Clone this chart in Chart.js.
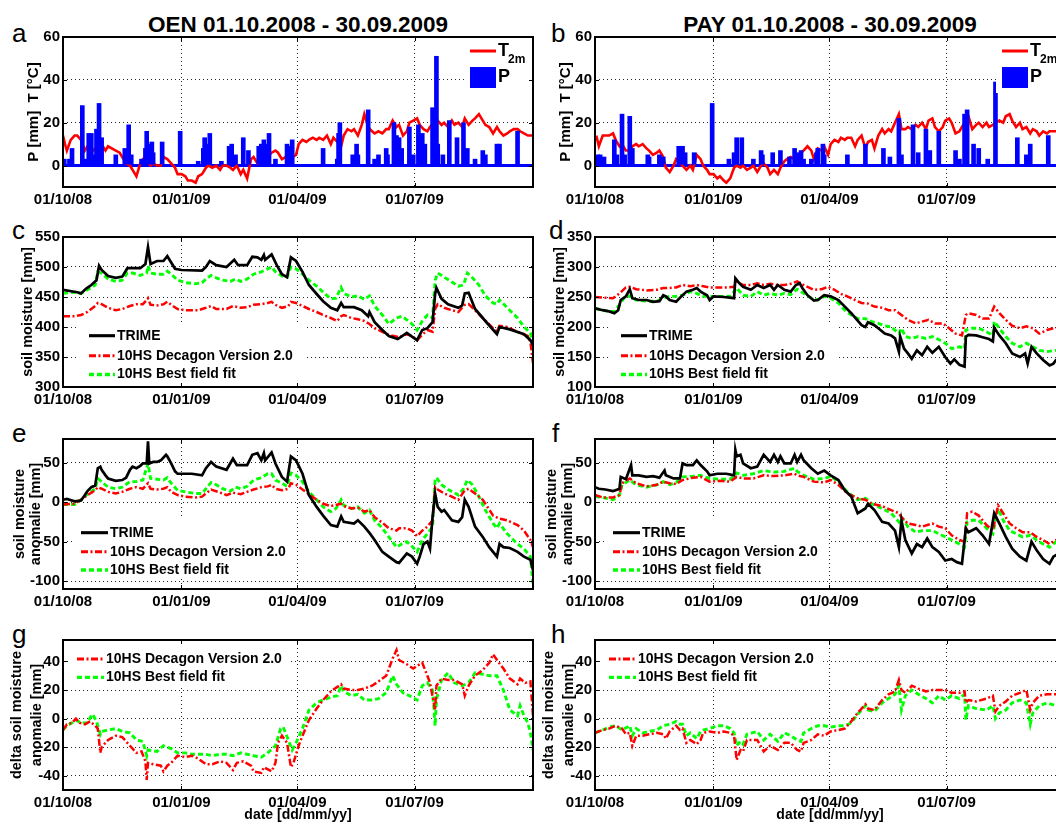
<!DOCTYPE html>
<html>
<head>
<meta charset="utf-8">
<title>Soil moisture OEN / PAY 2008-2009</title>
<script src="https://cdn.jsdelivr.net/npm/chart.js@4.4.1/dist/chart.umd.min.js"></script>
<style>
  html, body { margin: 0; padding: 0; background: #fff; }
  body { position: relative; width: 1056px; height: 825px; overflow: hidden;
         font-family: "Liberation Sans", Arial, Helvetica, sans-serif; }
  canvas { position: absolute; }
  .col-title { position: absolute; font-weight: bold; font-size: 22.5px; line-height: 23px;
               white-space: nowrap; transform: translateX(-50%); }
  .panel-tag { position: absolute; font-size: 26px; line-height: 26px; }
</style>
</head>
<body>
<div class="col-title" style="left:298px; top:13px">OEN 01.10.2008 - 30.09.2009</div>
<div class="col-title" style="left:830px; top:13px">PAY 01.10.2008 - 30.09.2009</div>
<div class="panel-tag" style="left:12px; top:20px">a</div>
<div class="panel-tag" style="left:551px; top:20px">b</div>
<div class="panel-tag" style="left:12px; top:217px">c</div>
<div class="panel-tag" style="left:549px; top:217px">d</div>
<div class="panel-tag" style="left:12px; top:420px">e</div>
<div class="panel-tag" style="left:552px; top:420px">f</div>
<div class="panel-tag" style="left:12px; top:621px">g</div>
<div class="panel-tag" style="left:551px; top:621px">h</div>

<script>
// ---- x axis: days since 01/10/2008 ----
const DAY_TICKS = [0, 92, 182, 273];
const DATE_LABELS = ['01/10/08', '01/01/09', '01/04/09', '01/07/09'];
const SERIES_NAMES = ['TRIME', '10HS Decagon Version 2.0', '10HS Best field fit'];

// ---- y ticks per row ----
const METEO_TICKS = [0, 20, 40, 60];
const OEN_SM_TICKS = [300, 350, 400, 450, 500, 550];
const PAY_SM_TICKS = [100, 150, 200, 250, 300, 350];
const ANOM_TICKS = [-100, -50, 0, 50];
const DELTA_TICKS = [-40, -20, 0, 20, 40];

// ---- OEN meteo: [day, value] ----
const oenTemp = [[0,14],[2,9],[3,7],[6,12],[9,14],[11,14],[14,12],[17,7],[19,9],[22,6],[25,8],[27,9],[30,10],[33,7],[35,9],[41,7],[44,6],[46,4],[49,1],[52,0],[54,-2],[57,-5],[60,1],[62,3],[65,2],[68,0],[70,1],[73,0],[76,0],[78,4],[81,3],[84,1],[87,-1],[89,-4],[92,-4],[95,-5],[97,-7],[100,-7],[103,-8],[105,-5],[108,-4],[111,-1],[113,0],[116,-1],[119,0],[122,-2],[124,0],[127,0],[130,-1],[132,-2],[135,0],[138,-4],[140,-2],[143,-6],[146,3],[148,4],[151,1],[154,3],[156,5],[159,4],[162,6],[165,7],[167,6],[170,3],[173,4],[175,6],[178,4],[181,5],[183,10],[186,12],[189,11],[191,12],[194,13],[197,12],[199,13],[202,12],[205,14],[208,10],[210,13],[213,11],[216,9],[218,14],[221,17],[224,16],[226,17],[229,14],[232,19],[234,24],[237,18],[240,16],[242,15],[245,16],[248,15],[251,17],[253,17],[256,21],[259,18],[261,19],[264,14],[267,16],[269,20],[272,21],[275,22],[277,19],[280,17],[283,16],[285,18],[288,20],[291,21],[294,19],[296,20],[299,18],[302,21],[304,19],[307,20],[310,18],[312,22],[315,19],[318,21],[320,22],[323,24],[326,21],[328,19],[331,18],[334,15],[337,18],[339,16],[342,14],[345,15],[347,16],[350,17],[353,17],[355,16],[358,15],[361,14],[365,14]];
const oenPrecip = [[1,3],[5,3],[7,8],[15,28],[18,3],[20,15],[22,15],[25,5],[26,17],[28,29],[30,13],[41,5],[48,8],[51,19],[53,5],[61,3],[64,8],[65,16],[66,10],[69,11],[70,6],[77,11],[91,16],[105,2],[109,8],[110,13],[112,10],[114,15],[123,2],[129,9],[131,10],[134,5],[140,13],[144,7],[152,9],[154,10],[156,12],[158,10],[160,15],[165,3],[174,10],[176,9],[178,12],[202,8],[213,3],[214,15],[215,20],[225,5],[228,10],[229,5],[237,26],[242,3],[245,5],[251,8],[252,5],[257,20],[259,14],[261,13],[263,8],[269,18],[272,5],[276,19],[279,15],[281,10],[287,27],[290,51],[291,10],[295,5],[300,21],[306,13],[311,20],[314,8],[320,3],[326,7],[328,5],[337,10],[339,10],[353,16]];

// ---- PAY meteo ----
const payTemp = [[1,14],[3,9],[6,14],[8,14],[11,14],[14,15],[16,12],[19,9],[21,10],[24,7],[27,7],[29,9],[32,10],[34,9],[37,10],[40,8],[42,7],[45,5],[48,6],[50,7],[53,4],[55,-1],[58,-3],[61,0],[63,3],[66,1],[68,0],[71,-2],[74,0],[76,-2],[79,5],[82,3],[84,0],[87,-2],[89,-4],[92,-4],[95,-6],[97,-5],[100,-7],[102,-8],[105,-6],[108,-1],[110,0],[113,-1],[115,0],[118,-2],[121,-1],[123,0],[126,-3],[129,0],[131,1],[134,-1],[136,-4],[139,-2],[142,-4],[144,-1],[147,2],[149,3],[152,4],[155,3],[157,3],[160,6],[162,7],[165,9],[168,7],[170,3],[173,8],[176,7],[178,9],[181,5],[183,10],[186,12],[189,11],[191,13],[194,12],[196,13],[199,13],[202,9],[204,12],[207,14],[210,8],[212,11],[215,12],[217,8],[220,14],[223,17],[225,15],[228,17],[230,16],[233,20],[236,24],[238,17],[241,17],[243,18],[246,17],[249,19],[251,18],[254,20],[257,17],[259,21],[262,22],[264,18],[267,16],[270,18],[272,21],[275,22],[277,20],[280,15],[283,16],[285,18],[288,21],[290,23],[293,17],[296,19],[298,20],[301,18],[304,20],[306,18],[309,19],[311,20],[314,21],[317,20],[319,23],[322,24],[324,21],[327,18],[330,20],[332,17],[335,18],[338,15],[340,17],[343,16],[345,14],[348,16],[351,15],[353,16],[358,16],[365,16]];
const payPrecip = [[1,3],[2,5],[4,5],[7,4],[15,12],[17,5],[21,24],[23,5],[27,23],[29,8],[41,5],[42,4],[50,5],[53,4],[65,9],[66,5],[68,9],[70,6],[77,6],[91,29],[104,3],[108,6],[110,13],[114,13],[123,3],[129,7],[130,5],[138,6],[144,7],[151,4],[155,8],[157,6],[160,7],[162,3],[168,3],[172,6],[173,8],[177,10],[178,5],[196,5],[210,10],[224,8],[229,4],[236,22],[238,5],[247,19],[251,6],[257,17],[259,5],[260,7],[267,16],[280,7],[283,3],[287,24],[289,26],[294,10],[298,8],[305,3],[311,39],[328,13],[335,5],[338,10],[352,14]];

// ---- OEN soil moisture [mm] ----
const oenTrime = [[0,462],[11,458],[14,456],[18,464],[22,470],[26,478],[28,502],[30,495],[35,485],[41,482],[46,484],[50,498],[54,498],[60,498],[64,505],[66,533],[68,505],[73,510],[78,510],[81,518],[87,497],[92,495],[108,494],[111,500],[114,510],[119,503],[127,500],[133,512],[136,503],[143,503],[147,517],[151,516],[154,512],[156,520],[157,512],[162,521],[166,503],[170,488],[174,483],[177,516],[181,510],[186,492],[191,470],[197,455],[202,443],[208,432],[213,428],[216,440],[218,433],[226,433],[232,428],[237,418],[238,425],[242,408],[248,395],[253,385],[260,380],[267,390],[271,384],[275,378],[279,395],[283,398],[287,408],[289,455],[290,465],[294,447],[299,438],[307,432],[310,436],[312,456],[315,457],[320,430],[328,410],[337,388],[339,400],[347,396],[358,388],[363,378],[365,370]];
const oenDecagon = [[0,418],[9,418],[14,420],[19,425],[25,435],[27,440],[30,438],[35,432],[41,428],[46,430],[52,435],[57,438],[62,438],[65,445],[66,448],[68,437],[73,436],[78,438],[81,442],[84,437],[89,430],[95,428],[105,428],[111,432],[115,435],[119,430],[127,430],[132,435],[138,432],[143,433],[148,437],[154,438],[159,440],[162,442],[165,437],[170,432],[175,435],[177,442],[181,440],[186,435],[191,430],[197,425],[202,420],[208,415],[213,410],[216,418],[218,420],[224,415],[229,413],[234,410],[238,405],[242,398],[248,392],[253,387],[261,383],[267,388],[271,385],[275,378],[279,387],[283,395],[287,392],[289,430],[291,438],[296,432],[302,428],[307,425],[312,437],[315,438],[320,428],[326,415],[334,398],[337,393],[339,402],[345,400],[353,392],[361,385],[363,375],[365,340]];
const oenBestFit = [[0,456],[9,458],[14,456],[19,462],[25,470],[27,492],[30,490],[35,480],[41,476],[46,478],[50,490],[54,490],[60,486],[65,490],[66,502],[68,490],[73,488],[78,488],[81,493],[84,488],[89,478],[95,474],[103,472],[108,474],[111,480],[115,486],[119,482],[124,478],[130,476],[134,480],[138,476],[143,480],[148,488],[154,492],[158,496],[162,500],[165,492],[170,485],[174,483],[177,500],[181,497],[186,488],[191,478],[197,468],[202,458],[208,447],[212,448],[216,466],[218,456],[224,450],[229,452],[234,446],[238,452],[242,435],[248,420],[253,405],[259,415],[263,418],[267,412],[271,405],[275,395],[279,410],[283,420],[287,415],[289,478],[291,490],[296,483],[302,475],[307,468],[311,470],[314,490],[318,482],[323,470],[328,452],[334,440],[337,438],[339,445],[345,432],[353,415],[358,400],[363,390],[365,372]];

// ---- PAY soil moisture [mm] ----
const payTrime = [[0,231],[6,228],[11,226],[15,223],[18,228],[20,245],[24,251],[27,263],[29,248],[34,245],[40,245],[45,242],[50,243],[53,253],[55,251],[58,245],[63,242],[67,251],[71,259],[76,262],[79,265],[82,259],[87,253],[89,245],[92,251],[100,250],[108,248],[109,281],[112,273],[115,267],[121,262],[126,270],[131,265],[136,270],[139,262],[142,270],[147,262],[152,259],[156,270],[159,273],[161,265],[165,253],[170,244],[173,245],[178,253],[183,251],[189,245],[194,234],[199,223],[207,203],[210,200],[212,208],[217,203],[220,198],[225,189],[230,186],[233,181],[236,159],[237,184],[240,164],[243,156],[246,147],[250,161],[254,153],[258,167],[262,157],[267,167],[272,150],[276,139],[279,146],[283,137],[287,134],[288,184],[290,187],[296,186],[301,183],[306,180],[309,176],[310,199],[314,186],[319,173],[324,156],[330,150],[334,156],[336,139],[339,167],[343,156],[348,145],[353,136],[356,139],[358,145],[365,145]];
const payDecagon = [[0,250],[6,249],[14,248],[19,256],[24,266],[27,267],[32,263],[40,261],[48,262],[53,265],[58,265],[63,266],[68,270],[74,268],[79,270],[84,268],[89,266],[95,266],[102,266],[108,267],[110,276],[115,270],[121,270],[126,273],[131,270],[136,272],[142,270],[147,270],[152,272],[157,276],[162,270],[170,262],[176,263],[181,267],[186,262],[191,255],[196,251],[202,245],[207,240],[212,239],[217,234],[223,232],[228,228],[233,228],[238,220],[243,212],[249,206],[254,209],[259,212],[264,206],[270,206],[275,198],[280,189],[285,186],[288,220],[290,223],[296,220],[301,214],[306,214],[310,234],[314,223],[319,212],[324,202],[330,198],[335,201],[340,198],[345,189],[351,195],[356,198],[365,198]];
const payBestFit = [[0,231],[6,228],[11,226],[15,226],[19,237],[24,253],[27,251],[32,245],[40,243],[48,243],[53,248],[58,251],[63,251],[68,253],[74,259],[79,256],[84,251],[89,251],[97,251],[105,251],[110,265],[115,253],[121,251],[126,259],[131,253],[136,256],[142,253],[147,256],[152,254],[157,263],[162,256],[168,248],[173,245],[178,251],[183,248],[189,240],[194,228],[199,220],[204,214],[210,214],[215,209],[220,206],[225,202],[230,200],[236,189],[238,198],[241,184],[246,181],[251,184],[257,181],[262,184],[267,179],[272,173],[277,164],[283,167],[287,164],[288,195],[293,198],[298,198],[304,192],[309,186],[310,209],[314,198],[319,184],[324,173],[330,167],[335,173],[340,167],[345,161],[351,159],[358,161],[365,161]];

// ---- OEN soil moisture anomaly [mm] ----
const oenTrimeAnom = [[0,3],[3,4],[9,1],[14,2],[17,9],[19,14],[22,19],[25,21],[27,43],[29,45],[30,41],[33,34],[35,30],[41,27],[46,28],[49,31],[52,41],[54,45],[57,43],[60,46],[62,49],[65,49],[66,77],[67,49],[70,51],[73,51],[76,53],[80,60],[81,58],[84,49],[87,39],[89,36],[100,36],[108,34],[111,43],[115,51],[119,45],[127,41],[132,55],[135,47],[143,47],[147,60],[151,62],[154,53],[156,62],[157,53],[162,63],[165,49],[170,32],[174,26],[177,58],[181,53],[186,36],[191,9],[197,-6],[202,-17],[208,-29],[213,-31],[216,-18],[218,-25],[226,-27],[229,-23],[234,-31],[238,-39],[242,-48],[248,-63],[253,-69],[259,-76],[261,-77],[267,-65],[271,-69],[275,-78],[277,-69],[280,-53],[283,-50],[285,-59],[287,-19],[289,11],[291,-6],[294,-12],[296,-10],[302,-23],[307,-25],[310,-19],[312,3],[315,-6],[320,-31],[326,-44],[331,-57],[337,-69],[339,-53],[342,-57],[347,-58],[353,-63],[358,-69],[363,-73],[365,-86]];
const oenDecagonAnom = [[0,-3],[9,-2],[14,3],[19,9],[25,15],[27,19],[30,17],[35,13],[41,11],[46,13],[52,17],[57,19],[62,17],[66,24],[68,17],[73,16],[78,17],[81,19],[84,13],[89,9],[95,7],[103,6],[108,7],[111,11],[115,16],[124,11],[127,9],[132,12],[138,10],[143,13],[148,16],[154,19],[159,20],[162,22],[165,17],[170,15],[175,17],[177,24],[181,22],[186,16],[191,10],[197,3],[202,-2],[208,-5],[216,-2],[218,-5],[224,-8],[229,-7],[234,-12],[238,-10],[242,-19],[248,-26],[253,-33],[259,-36],[261,-33],[267,-33],[271,-36],[275,-43],[279,-36],[283,-31],[287,-23],[289,19],[291,16],[296,11],[302,7],[307,3],[312,15],[315,17],[320,11],[326,3],[334,-17],[339,-21],[345,-23],[353,-29],[358,-36],[363,-48],[365,-57]];
const oenBestFitAnom = [[0,-3],[9,-3],[14,3],[19,10],[25,17],[27,30],[30,26],[35,19],[41,17],[46,19],[52,26],[57,26],[62,28],[66,49],[68,30],[73,29],[78,28],[81,31],[84,24],[89,15],[95,13],[103,11],[108,11],[111,17],[115,25],[119,22],[124,17],[130,14],[134,19],[138,17],[143,20],[148,28],[154,31],[159,36],[162,36],[165,28],[170,24],[174,20],[177,37],[181,34],[186,26],[191,13],[197,3],[202,-6],[208,-12],[212,-8],[216,3],[218,-4],[224,-8],[229,-6],[234,-14],[238,-10],[242,-23],[248,-33],[253,-44],[259,-57],[263,-53],[267,-50],[271,-56],[275,-63],[279,-48],[283,-40],[287,-31],[289,28],[290,31],[294,22],[299,16],[305,11],[307,9],[311,17],[314,28],[318,22],[323,7],[328,-10],[334,-27],[337,-33],[339,-27],[345,-40],[353,-53],[358,-59],[363,-69],[365,-103]];

// ---- PAY soil moisture anomaly [mm] ----
const payTrimeAnom = [[0,19],[3,17],[8,16],[14,14],[16,15],[19,17],[20,32],[24,29],[28,47],[29,34],[34,34],[40,32],[45,33],[50,31],[54,40],[55,34],[61,30],[66,30],[68,49],[71,47],[76,47],[79,53],[82,47],[87,39],[89,34],[95,36],[102,36],[108,34],[109,66],[110,58],[113,60],[115,49],[121,43],[126,45],[131,60],[136,51],[139,60],[142,51],[144,58],[147,49],[152,49],[155,60],[157,51],[160,60],[162,53],[168,43],[173,36],[178,40],[183,34],[189,28],[194,15],[199,7],[204,-14],[210,-8],[212,-2],[217,-10],[223,-25],[228,-27],[233,-36],[236,-57],[238,-23],[241,-48],[246,-65],[250,-53],[254,-57],[258,-46],[262,-57],[267,-63],[272,-74],[277,-72],[281,-76],[285,-78],[288,-33],[290,-38],[296,-33],[301,-42],[306,-53],[310,-14],[314,-27],[319,-44],[324,-59],[330,-69],[335,-74],[339,-50],[343,-61],[348,-72],[353,-78],[356,-69],[358,-67],[365,-67]];
const payDecagonAnom = [[0,9],[6,6],[14,6],[19,9],[21,24],[27,30],[32,24],[40,20],[48,22],[53,26],[58,24],[63,23],[68,28],[76,31],[82,32],[89,26],[97,27],[105,26],[110,32],[115,30],[123,30],[131,34],[139,33],[147,34],[155,36],[157,34],[162,32],[170,26],[178,25],[183,28],[189,22],[196,11],[204,5],[210,3],[215,-2],[223,-5],[230,-10],[236,-14],[238,-19],[243,-27],[249,-29],[254,-31],[262,-27],[267,-31],[272,-33],[277,-42],[283,-48],[287,-50],[289,-14],[293,-12],[298,-17],[304,-29],[309,-36],[313,-4],[317,-14],[322,-27],[327,-33],[332,-38],[338,-38],[343,-44],[348,-48],[353,-53],[358,-48],[365,-48]];
const payBestFitAnom = [[0,7],[6,6],[14,3],[19,9],[21,22],[27,28],[32,22],[40,19],[48,22],[53,26],[58,22],[63,25],[68,32],[76,33],[82,34],[89,30],[97,29],[105,29],[110,37],[115,34],[123,36],[131,40],[139,38],[147,39],[155,43],[157,39],[162,34],[170,29],[178,30],[183,33],[189,26],[196,13],[204,3],[210,5],[215,-2],[223,-8],[230,-14],[236,-25],[238,-19],[243,-31],[249,-38],[254,-36],[262,-36],[267,-40],[272,-44],[277,-48],[283,-53],[287,-57],[289,-25],[293,-23],[298,-23],[304,-33],[309,-40],[313,-8],[317,-23],[322,-36],[327,-40],[332,-44],[338,-42],[343,-48],[348,-53],[353,-57],[358,-50],[365,-50]];

// ---- delta soil moisture anomaly (10HS minus TRIME) [mm] ----
const oenDecagonDelta = [[0,-8],[3,-4],[7,-3],[10,0],[13,-3],[17,-4],[21,-2],[25,-5],[27,-7],[29,-24],[30,-20],[35,-15],[41,-12],[46,-13],[52,-19],[57,-24],[61,-23],[64,-30],[65,-43],[66,-31],[70,-32],[76,-33],[78,-37],[81,-33],[84,-31],[89,-26],[95,-27],[100,-26],[105,-28],[111,-32],[116,-32],[122,-30],[127,-31],[132,-36],[135,-31],[140,-30],[146,-33],[148,-37],[154,-38],[156,-34],[162,-37],[165,-31],[167,-17],[170,-12],[174,-17],[177,-34],[179,-31],[183,-19],[186,-12],[191,-1],[197,7],[202,13],[208,19],[216,24],[218,21],[224,20],[229,20],[234,21],[240,23],[245,26],[251,30],[256,42],[259,48],[261,41],[267,38],[272,35],[275,37],[279,39],[283,30],[285,25],[289,6],[290,23],[294,28],[299,27],[304,27],[310,24],[312,16],[315,23],[320,30],[326,34],[331,39],[334,45],[337,41],[342,35],[347,28],[353,24],[355,28],[359,25],[363,26],[365,2]];
const oenBestFitDelta = [[0,-8],[3,-5],[7,-3],[10,-1],[14,-3],[19,-3],[22,2],[23,3],[26,-2],[29,-11],[30,-9],[35,-8],[41,-7],[46,-9],[52,-10],[57,-15],[62,-16],[65,-26],[66,-22],[73,-23],[78,-19],[84,-21],[89,-24],[95,-24],[100,-25],[111,-25],[116,-26],[122,-25],[127,-25],[132,-26],[138,-24],[143,-25],[148,-26],[154,-27],[159,-24],[165,-19],[169,-7],[171,-6],[175,-15],[178,-22],[181,-17],[186,-7],[191,6],[197,11],[202,13],[208,15],[213,16],[216,23],[218,19],[224,16],[229,17],[234,13],[240,13],[245,14],[251,18],[256,30],[259,24],[264,18],[269,16],[275,13],[279,23],[283,25],[287,20],[289,-5],[290,13],[294,27],[299,32],[304,25],[310,23],[315,25],[320,32],[326,31],[331,30],[337,30],[342,20],[347,6],[353,2],[355,9],[358,2],[361,-3],[363,-10],[365,-22]];
const payDecagonDelta = [[0,-10],[6,-8],[11,-7],[16,-5],[21,-7],[24,-11],[27,-10],[29,-19],[32,-12],[37,-12],[42,-11],[48,-10],[53,-11],[55,-14],[58,-9],[63,-5],[66,-8],[68,-7],[71,-17],[74,-15],[79,-18],[82,-15],[84,-10],[89,-9],[95,-10],[100,-9],[105,-10],[108,-12],[110,-29],[113,-22],[115,-23],[118,-15],[126,-15],[131,-23],[136,-19],[142,-22],[147,-17],[152,-17],[157,-22],[160,-23],[162,-17],[168,-15],[173,-11],[178,-12],[183,-9],[189,-8],[194,-7],[199,-2],[204,4],[210,10],[212,7],[217,6],[223,13],[228,17],[233,19],[236,27],[238,20],[241,18],[246,23],[251,21],[257,19],[262,20],[267,20],[272,20],[277,18],[283,18],[287,19],[288,11],[290,13],[296,12],[304,14],[309,16],[311,5],[314,9],[319,12],[324,16],[330,18],[335,20],[338,6],[340,11],[345,16],[351,17],[358,17],[365,17]];
const payBestFitDelta = [[0,-10],[6,-8],[11,-6],[16,-5],[21,-8],[27,-5],[29,-12],[32,-7],[37,-10],[42,-9],[48,-8],[53,-5],[58,-4],[63,-2],[66,-4],[68,-4],[71,-12],[74,-10],[79,-14],[82,-9],[84,-8],[89,-7],[95,-5],[100,-5],[105,-7],[108,-10],[110,-19],[113,-16],[115,-18],[118,-11],[126,-9],[131,-15],[136,-11],[142,-16],[147,-10],[152,-12],[157,-15],[160,-16],[162,-10],[168,-7],[173,-5],[178,-5],[183,-6],[189,-5],[194,-5],[199,-3],[204,3],[210,9],[212,6],[217,5],[223,11],[228,14],[233,17],[236,23],[238,6],[241,16],[246,20],[251,17],[257,14],[262,11],[267,16],[272,13],[277,16],[283,14],[287,17],[288,-1],[290,9],[296,7],[304,6],[309,9],[311,0],[314,4],[319,6],[324,11],[330,13],[335,11],[338,-4],[340,4],[345,9],[351,11],[358,9],[365,9]];

// ---- layout ----
const FONT = '"Liberation Sans", Arial, Helvetica, sans-serif';
const AXIS_W = 63, PLOT_W = 470, PLOT_H = 150, PAD_T = 14, PAD_R = 10, AXIS_H = 46;
const COL_X = [63, 595];
const ROW_Y = [37, 237, 439, 640];
const GRID_COLOR = 'rgba(0,0,0,0.85)';

const STYLE = {
  trime:   { borderColor: '#000000', borderWidth: 2.7, borderDash: [] },
  decagon: { borderColor: '#ff0000', borderWidth: 2.5, borderDash: [7, 2.5, 2, 2.5] },
  bestfit: { borderColor: '#00ff00', borderWidth: 2.9, borderDash: [5, 3] },
  temp:    { borderColor: '#ff0000', borderWidth: 2.6, borderDash: [] }
};

const xy = pts => pts.map(([x, y]) => ({ x, y }));

function lineSet(label, pts, style, order) {
  return Object.assign({ type: 'line', label, data: xy(pts), pointRadius: 0, tension: 0,
                         fill: false, order: order || 1 }, style);
}
function barSet(label, pts) {
  return { type: 'bar', label, data: xy(pts), backgroundColor: '#0000ff', borderWidth: 0,
           barThickness: 4, grouped: false, order: 0 };
}

// legend, frame and inner tick marks drawn on top of the data
const panelDecor = {
  id: 'panelDecor',
  afterDatasetsDraw(chart, args, o) {
    const { ctx, chartArea: a } = chart;
    ctx.save();
    if (o.legend) {
      const L = o.legend;
      ctx.fillStyle = '#ffffff';
      ctx.fillRect(a.left + L.box[0], a.top + L.box[1], L.box[2] - L.box[0], L.box[3] - L.box[1]);
      chart.data.datasets.forEach((ds, i) => {
        const y = a.top + L.rows[i];
        const x0 = a.left + L.sample[0], x1 = a.left + L.sample[1];
        if (ds.type === 'bar') {
          ctx.fillStyle = ds.backgroundColor;
          ctx.fillRect(x0, y - L.boxH / 2, x1 - x0, L.boxH);
        } else {
          ctx.strokeStyle = ds.borderColor;
          ctx.lineWidth = ds.borderWidth + 0.4;
          ctx.setLineDash(ds.borderDash || []);
          ctx.beginPath(); ctx.moveTo(x0, y); ctx.lineTo(x1, y); ctx.stroke();
          ctx.setLineDash([]);
        }
        ctx.fillStyle = '#000';
        ctx.font = L.font;
        ctx.textAlign = 'left';
        ctx.textBaseline = 'middle';
        const tx = a.left + L.textX;
        ctx.fillText(ds.label, tx, y);
        if (ds.labelSub) {
          const w = ctx.measureText(ds.label).width;
          ctx.font = L.subFont;
          ctx.fillText(ds.labelSub, tx + w - 1, y + L.subDy);
        }
      });
    }
    // inner tick marks
    ctx.strokeStyle = '#000'; ctx.lineWidth = 1;
    ctx.beginPath();
    const xs = chart.scales.x, ys = chart.scales.y;
    xs.ticks.forEach(t => {
      const px = Math.round(xs.getPixelForValue(t.value)) + 0.5;
      ctx.moveTo(px, a.bottom); ctx.lineTo(px, a.bottom - 4);
      ctx.moveTo(px, a.top); ctx.lineTo(px, a.top + 4);
    });
    ys.ticks.forEach(t => {
      const py = Math.round(ys.getPixelForValue(t.value)) + 0.5;
      ctx.moveTo(a.left, py); ctx.lineTo(a.left + 4, py);
      ctx.moveTo(a.right, py); ctx.lineTo(a.right - 4, py);
    });
    ctx.stroke();
    // axes box
    ctx.lineWidth = 2;
    ctx.strokeRect(a.left, a.top, a.right - a.left, a.bottom - a.top);
    ctx.restore();
  }
};

function makePanel(col, row, datasets, y, legend, xTitle) {
  const cv = document.createElement('canvas');
  const W = AXIS_W + PLOT_W + PAD_R, H = PAD_T + PLOT_H + AXIS_H;
  cv.width = W; cv.height = H;
  cv.style.left = (COL_X[col] - AXIS_W) + 'px';
  cv.style.top = (ROW_Y[row] - PAD_T) + 'px';
  cv.style.width = W + 'px';
  cv.style.height = H + 'px';
  document.body.appendChild(cv);

  const isZero = c => y.zeroLine && c.tick && c.tick.value === 0;
  const tf = y.title;
  return new Chart(cv, {
    type: 'line',
    data: { datasets },
    options: {
      responsive: false, animation: false, devicePixelRatio: 1,
      layout: { padding: { top: PAD_T, right: PAD_R, left: 0, bottom: 0 } },
      plugins: { legend: { display: false }, tooltip: { enabled: false }, panelDecor: { legend } },
      scales: {
        x: {
          type: 'linear', min: 0, max: 365, offset: false,
          afterFit: s => { s.height = AXIS_H; },
          afterBuildTicks: s => { s.ticks = DAY_TICKS.map(v => ({ value: v })); },
          ticks: { autoSkip: false, maxRotation: 0, minRotation: 0, padding: 4, color: '#000',
                   font: { family: FONT, size: 15, weight: 'bold' },
                   callback: v => DATE_LABELS[DAY_TICKS.indexOf(v)] },
          grid: { drawTicks: false, offset: false, color: GRID_COLOR, lineWidth: 1 },
          border: { display: false, dash: [1, 3] },
          title: xTitle ? { display: true, text: xTitle, color: '#000',
                            font: { family: FONT, size: 14, weight: 'bold', lineHeight: 1.2 },
                            padding: { top: 0, bottom: 12.6 } } : { display: false }
        },
        y: {
          type: 'linear', min: y.min, max: y.max,
          afterFit: s => { s.width = AXIS_W; },
          afterBuildTicks: s => { s.ticks = y.ticks.map(v => ({ value: v })); },
          ticks: { padding: 3, color: '#000', font: { family: FONT, size: 15, weight: 'bold' } },
          grid: { drawTicks: false,
                  color: c => isZero(c) ? '#0000ff' : GRID_COLOR,
                  lineWidth: c => isZero(c) ? 3 : 1 },
          border: { display: false, dash: c => isZero(c) ? [] : [1, 3] },
          title: { display: true, text: tf.text, color: '#000',
                   font: { family: FONT, size: tf.size, weight: 'bold', lineHeight: tf.lh / tf.size },
                   padding: { top: AXIS_W + tf.center - tf.lh / 2, bottom: 0 } }
        }
      }
    },
    plugins: [panelDecor]
  });
}

const legendFont = 'bold 14px ' + FONT;
const meteoLegend = { box: [401, 1, 470, 56], rows: [14, 40.5], sample: [407, 433], textX: 435,
                      boxH: 21, font: 'bold 18px ' + FONT, subFont: 'bold 12px ' + FONT, subDy: 9 };
const smLegend    = { box: [16, 86, 244, 149], rows: [98.7, 118.7, 137.5], sample: [26, 52], textX: 54, font: legendFont };
const anomLegend  = { box: [12, 79, 233, 140], rows: [93.7, 112.7, 131], sample: [18, 45], textX: 47, font: legendFont };
const deltaLegend = { box: [8, 4, 228, 47], rows: [19, 37.3], sample: [14, 41], textX: 43, font: legendFont };

const meteoY = { min: -10, max: 60, ticks: METEO_TICKS, zeroLine: true,
                 title: { text: 'P [mm]  T [°C]', size: 15, lh: 18, center: -29 } };
const smTitle = { text: 'soil moisture [mm]', size: 14.5, lh: 17, center: -35 };
const anomTitle = { text: ['soil moisture', 'anomalie [mm]'], size: 14.5, lh: 16, center: -43 };
const deltaTitle = { text: ['delta soil moisture', 'anomalie [mm]'], size: 14.5, lh: 20, center: -46 };

function tempSet(pts) { const d = lineSet('T', pts, STYLE.temp, 1); d.labelSub = '2m'; return d; }

// a, b: temperature and precipitation
makePanel(0, 0, [tempSet(oenTemp), barSet('P', oenPrecip)], meteoY, meteoLegend);
makePanel(1, 0, [tempSet(payTemp), barSet('P', payPrecip)], meteoY, meteoLegend);

// c, d: soil moisture
makePanel(0, 1, [lineSet(SERIES_NAMES[0], oenTrime, STYLE.trime, 1),
                 lineSet(SERIES_NAMES[1], oenDecagon, STYLE.decagon, 2),
                 lineSet(SERIES_NAMES[2], oenBestFit, STYLE.bestfit, 3)],
          { min: 300, max: 550, ticks: OEN_SM_TICKS, title: smTitle }, smLegend);
makePanel(1, 1, [lineSet(SERIES_NAMES[0], payTrime, STYLE.trime, 1),
                 lineSet(SERIES_NAMES[1], payDecagon, STYLE.decagon, 2),
                 lineSet(SERIES_NAMES[2], payBestFit, STYLE.bestfit, 3)],
          { min: 100, max: 350, ticks: PAY_SM_TICKS, title: smTitle }, smLegend);

// e, f: soil moisture anomalies
makePanel(0, 2, [lineSet(SERIES_NAMES[0], oenTrimeAnom, STYLE.trime, 1),
                 lineSet(SERIES_NAMES[1], oenDecagonAnom, STYLE.decagon, 2),
                 lineSet(SERIES_NAMES[2], oenBestFitAnom, STYLE.bestfit, 3)],
          { min: -110, max: 80, ticks: ANOM_TICKS, title: anomTitle }, anomLegend);
makePanel(1, 2, [lineSet(SERIES_NAMES[0], payTrimeAnom, STYLE.trime, 1),
                 lineSet(SERIES_NAMES[1], payDecagonAnom, STYLE.decagon, 2),
                 lineSet(SERIES_NAMES[2], payBestFitAnom, STYLE.bestfit, 3)],
          { min: -110, max: 80, ticks: ANOM_TICKS, title: anomTitle }, anomLegend);

// g, h: delta anomalies
makePanel(0, 3, [lineSet(SERIES_NAMES[1], oenDecagonDelta, STYLE.decagon, 1),
                 lineSet(SERIES_NAMES[2], oenBestFitDelta, STYLE.bestfit, 2)],
          { min: -50, max: 55, ticks: DELTA_TICKS, title: deltaTitle }, deltaLegend, 'date [dd/mm/yy]');
makePanel(1, 3, [lineSet(SERIES_NAMES[1], payDecagonDelta, STYLE.decagon, 1),
                 lineSet(SERIES_NAMES[2], payBestFitDelta, STYLE.bestfit, 2)],
          { min: -50, max: 55, ticks: DELTA_TICKS, title: deltaTitle }, deltaLegend, 'date [dd/mm/yy]');
</script>
</body>
</html>
